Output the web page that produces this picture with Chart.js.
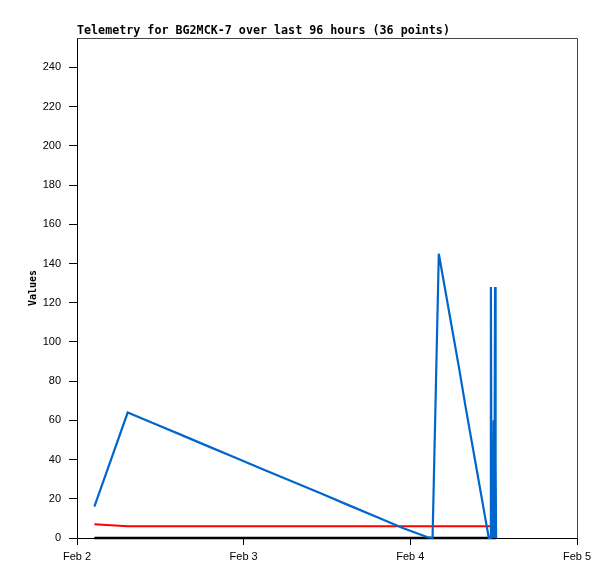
<!DOCTYPE html>
<html>
<head>
<meta charset="utf-8">
<script src="https://cdn.jsdelivr.net/npm/chart.js@4/dist/chart.umd.min.js"></script>
<style>
  body { margin: 0; background: #fff; }
  canvas { display: block; }
</style>
</head>
<body>
<canvas id="telemetry" width="615" height="579"></canvas>
<script>
// hours since Feb 2 00:00
const hours = [2.5, 7.3, 11, 15, 19, 23, 27, 31, 35, 39, 43, 47, 50.4, 51.2, 52.1, 52.3, 53, 54,
    55, 56, 57, 58, 58.8, 59.3, 59.5, 59.6, 59.7, 59.8, 59.9, 60.0, 60.1, 60.2, 60.25, 60.3, 60.35, 60.4];
const blueValues = [16, 64, 58.5, 52.6, 46.6, 40.7, 34.7, 28.8, 22.9, 16.9, 11, 5, 0.5, 0, 145, 141, 127, 107,
    87, 66, 46, 26, 10, 0, 0, 128, 0, 40, 0, 60, 0, 128, 96, 40, 0, 0];
const redValues = [7, 6, 6, 6, 6, 6, 6, 6, 6, 6, 6, 6, 6, 6, 6, 6, 6, 6,
    6, 6, 6, 6, 6, 6, 6, 6, 6, 6, 6, 6, 6, 6, 6, 6, 6, 6];
const blackValues = [0, 0, 0, 0, 0, 0, 0, 0, 0, 0, 0, 0, 0, 0, 0, 0, 0, 0,
    0, 0, 0, 0, 0, 0, 0, 0, 0, 0, 0, 0, 0, 0, 0, 0, 0, 0];
const dayLabels = ["Feb 2", "Feb 3", "Feb 4", "Feb 5"];
const titleText = "Telemetry for BG2MCK-7 over last 96 hours (36 points)";

function toPoints(vals) {
    return vals.map((v, i) => ({ x: hours[i], y: v }));
}

// title, y label and the grey top/right frame
const decor = {
    id: "decor",
    afterDraw(chart) {
        const ctx = chart.ctx;
        const a = chart.chartArea;
        ctx.save();
        ctx.strokeStyle = "#444";
        ctx.lineWidth = 1;
        ctx.beginPath();
        ctx.moveTo(a.left, a.top + 0.5);
        ctx.lineTo(a.right + 0.5, a.top + 0.5);
        ctx.lineTo(a.right + 0.5, a.bottom);
        ctx.stroke();

        ctx.fillStyle = "#000";
        ctx.font = "bold 11.7px 'DejaVu Sans Mono'";
        ctx.textBaseline = "alphabetic";
        ctx.textAlign = "left";
        ctx.fillText(titleText, 77, 34);

        ctx.font = "bold 10px 'DejaVu Sans Mono'";
        ctx.translate(36, (a.top + a.bottom) / 2);
        ctx.rotate(-Math.PI / 2);
        ctx.textAlign = "center";
        ctx.fillText("Values", 0, 0);
        ctx.restore();
    }
};

new Chart(document.getElementById("telemetry"), {
    type: "line",
    data: {
        datasets: [
            { data: toPoints(blueValues), borderColor: "#0066cc", borderWidth: 2.2 },
            { data: toPoints(redValues), borderColor: "#ff0000", borderWidth: 2 },
            { data: toPoints(blackValues), borderColor: "#000000", borderWidth: 2.5 }
        ]
    },
    options: {
        responsive: false,
        animation: false,
        layout: { padding: { top: 38, right: 38, left: 0, bottom: 0 } },
        elements: { point: { radius: 0 }, line: { tension: 0 } },
        datasets: { line: { clip: false } },
        plugins: { legend: { display: false }, tooltip: { enabled: false } },
        scales: {
            x: {
                type: "linear",
                min: 0,
                max: 72,
                afterFit(scale) { scale.height = 41; },
                border: { color: "#000", width: 1 },
                grid: { drawOnChartArea: false, tickLength: 7, color: "#000" },
                ticks: {
                    stepSize: 24,
                    color: "#000",
                    padding: 5,
                    maxRotation: 0,
                    font: { family: "'Liberation Sans'", size: 11 },
                    callback: (v) => dayLabels[v / 24]
                }
            },
            y: {
                min: 0,
                max: 255,
                afterFit(scale) { scale.width = 77; },
                border: { color: "#000", width: 1 },
                grid: { drawOnChartArea: false, tickLength: 8, color: "#000" },
                ticks: {
                    stepSize: 20,
                    includeBounds: false,
                    color: "#000",
                    padding: 8,
                    font: { family: "'Liberation Sans'", size: 11 }
                }
            }
        }
    },
    plugins: [decor]
});
</script>
</body>
</html>
